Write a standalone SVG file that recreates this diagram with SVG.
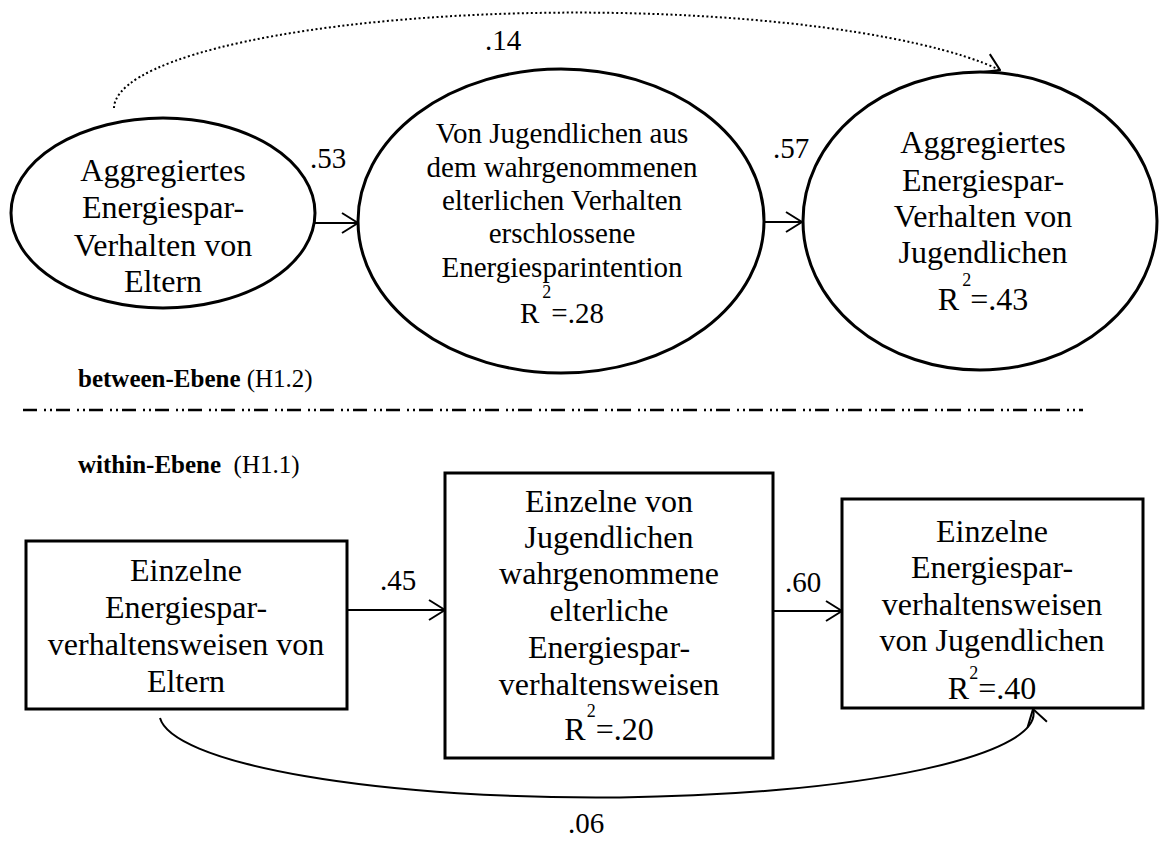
<svg xmlns="http://www.w3.org/2000/svg" width="1159" height="841" viewBox="0 0 1159 841">
  <defs>
    <style>
      text { font-family: "Liberation Serif", "Times New Roman", serif; fill: #000; }
      .n32 { font-size: 32px; text-anchor: middle; }
      .n29 { font-size: 29px; text-anchor: middle; }
      .lbl { font-size: 29px; }
      .sup { font-size: 18px; }
      .head { font-size: 25px; }
      .shape { fill: #fff; stroke: #000; stroke-width: 3; }
      .edge { fill: none; stroke: #000; stroke-width: 2; }
    </style>
    <marker id="arr" viewBox="0 0 18 22" refX="17" refY="11" markerWidth="18" markerHeight="22" markerUnits="userSpaceOnUse" orient="auto">
      <path d="M1,1 L17,11 L1,21" fill="none" stroke="#000" stroke-width="2"/>
    </marker>
  </defs>

  <rect width="1159" height="841" fill="#fff"/>

  <!-- connectors -->
  <g id="connectors">
    <path class="edge" d="M114,108 A462.5,96 0 0 1 1000,70" stroke-dasharray="2 2.5" marker-end="url(#arr)"/>
    <line class="edge" x1="315" y1="223" x2="358" y2="223" marker-end="url(#arr)"/>
    <line class="edge" x1="765" y1="222" x2="802" y2="222" marker-end="url(#arr)"/>
    <line class="edge" x1="347" y1="610" x2="445" y2="610" marker-end="url(#arr)"/>
    <line class="edge" x1="773" y1="611" x2="842" y2="611" marker-end="url(#arr)"/>
    <path class="edge" d="M160,718 A437,84 0 0 0 1033,709" stroke-width="1.6" marker-end="url(#arr)"/>
  </g>

  <!-- path coefficients -->
  <g id="labels">
    <text class="lbl" x="485" y="50">.14</text>
    <text class="lbl" x="310" y="168">.53</text>
    <text class="lbl" x="773" y="158">.57</text>
    <text class="lbl" x="380" y="590">.45</text>
    <text class="lbl" x="785" y="592">.60</text>
    <text class="lbl" x="568" y="833">.06</text>
  </g>

  <!-- between level -->
  <g id="node-eltern-agg">
    <ellipse class="shape" cx="163" cy="213" rx="152" ry="95"/>
    <text class="n32" x="163" y="181">Aggregiertes</text>
    <text class="n32" x="163" y="218">Energiespar-</text>
    <text class="n32" x="163" y="256">Verhalten von</text>
    <text class="n32" x="163" y="292">Eltern</text>
  </g>

  <g id="node-intention">
    <ellipse class="shape" cx="561" cy="221" rx="203" ry="152"/>
    <text class="n29" x="562" y="143">Von Jugendlichen aus</text>
    <text class="n29" x="562" y="177">dem wahrgenommenen</text>
    <text class="n29" x="562" y="210">elterlichen Verhalten</text>
    <text class="n29" x="562" y="243">erschlossene</text>
    <text class="n29" x="562" y="277">Energiesparintention</text>
    <text class="n29" x="562" y="323">R<tspan class="sup" dx="3" dy="-25">2</tspan><tspan dy="25">=.28</tspan></text>
  </g>

  <g id="node-jugend-agg">
    <ellipse class="shape" cx="980" cy="221" rx="177" ry="149"/>
    <text class="n32" x="983" y="153">Aggregiertes</text>
    <text class="n32" x="983" y="191">Energiespar-</text>
    <text class="n32" x="983" y="227">Verhalten von</text>
    <text class="n32" x="983" y="263">Jugendlichen</text>
    <text class="n32" x="983" y="310">R<tspan class="sup" dx="3" dy="-24">2</tspan><tspan dx="-1" dy="24">=.43</tspan></text>
  </g>

  <!-- level headings and separator -->
  <g id="levels">
    <text class="head" x="78" y="387"><tspan font-weight="bold">between-Ebene</tspan> (H1.2)</text>
    <line x1="23" y1="410" x2="1083" y2="410" stroke="#000" stroke-width="2.5" stroke-dasharray="14 7 2 4 2 4"/>
    <text class="head" x="78" y="473" xml:space="preserve"><tspan font-weight="bold">within-Ebene</tspan>  (H1.1)</text>
  </g>

  <!-- within level -->
  <g id="node-eltern-einzeln">
    <rect class="shape" x="26" y="541" width="321" height="168"/>
    <text class="n32" x="186" y="581">Einzelne</text>
    <text class="n32" x="186" y="618">Energiespar-</text>
    <text class="n32" x="186" y="655">verhaltensweisen von</text>
    <text class="n32" x="186" y="692">Eltern</text>
  </g>

  <g id="node-wahrgenommen">
    <rect class="shape" x="445" y="473" width="328" height="285"/>
    <text class="n32" x="609" y="512">Einzelne von</text>
    <text class="n32" x="609" y="548">Jugendlichen</text>
    <text class="n32" x="609" y="584">wahrgenommene</text>
    <text class="n32" x="609" y="621">elterliche</text>
    <text class="n32" x="609" y="658">Energiespar-</text>
    <text class="n32" x="609" y="695">verhaltensweisen</text>
    <text class="n32" x="609" y="740">R<tspan class="sup" dx="1" dy="-23">2</tspan><tspan dy="23">=.20</tspan></text>
  </g>

  <g id="node-jugend-einzeln">
    <rect class="shape" x="842" y="499" width="301" height="209"/>
    <text class="n32" x="992" y="542">Einzelne</text>
    <text class="n32" x="992" y="578">Energiespar-</text>
    <text class="n32" x="992" y="615">verhaltensweisen</text>
    <text class="n32" x="992" y="651">von Jugendlichen</text>
    <text class="n32" x="992" y="699">R<tspan class="sup" dy="-20">2</tspan><tspan dy="20">=.40</tspan></text>
  </g>
</svg>
